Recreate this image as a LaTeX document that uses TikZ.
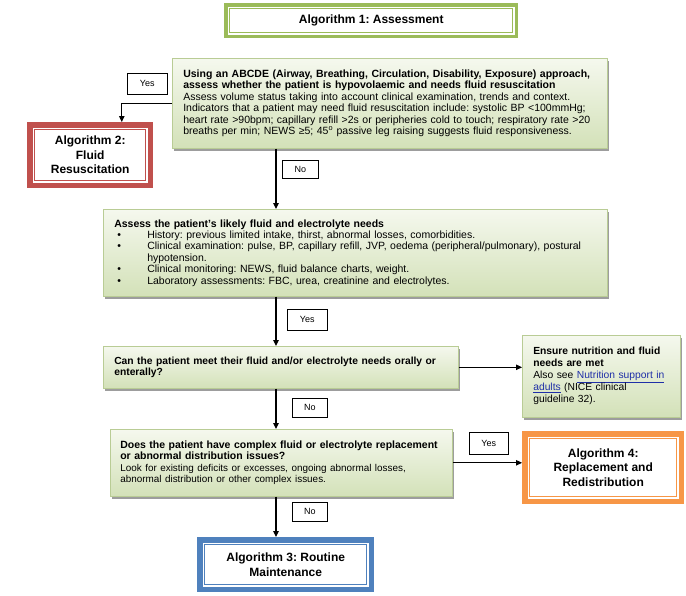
\documentclass[tikz,border=0pt]{standalone}
\usepackage{fontspec}
\setmainfont{Liberation Sans}
\usetikzlibrary{arrows.meta,shadows,calc}
\definecolor{gtop}{HTML}{F5F8EE}
\definecolor{gbot}{HTML}{D3E1B8}
\definecolor{gedge}{HTML}{B9CC95}
\definecolor{algG}{HTML}{9BBB59}
\definecolor{algR}{HTML}{C0504D}
\definecolor{algB}{HTML}{4F81BD}
\definecolor{algO}{HTML}{F79646}
\definecolor{linkc}{HTML}{1F2FA8}
\newcommand\lnk[1]{\textcolor{linkc}{\underline{#1}}}
\newcommand\bitem[1]{\par\noindent\hangindent=33pt\hangafter=1\makebox[33pt][l]{\hspace{3pt}\textbullet}#1}
\frenchspacing
\begin{document}
\begin{tikzpicture}[x=1pt,y=-1pt,
  gbox/.style={draw=gedge, line width=0.6pt, top color=gtop, bottom color=gbot,
    drop shadow={shadow xshift=2pt, shadow yshift=-3pt, fill=black!55, opacity=0.7},
    anchor=north west, align=left, inner ysep=0pt,
    font=\fontsize{10.5}{11.4}\selectfont\frenchspacing},
  lbl/.style={draw=black, line width=0.6pt, fill=white, anchor=north west,
    inner sep=0pt, font=\fontsize{9}{10}\selectfont},
  algbox/.style={anchor=north west, inner sep=0pt, align=center, fill=white,
    font=\fontsize{12}{14.5}\selectfont\bfseries},
  arr/.style={line width=1.1pt, -{Triangle[length=6pt,width=5.5pt]}},
  band/.style={line width=#1}
]
\useasboundingbox (0,0) rectangle (686,595);
\coordinate (trunk) at (276,0);

% Algorithm 1
\node[algbox, minimum width=294pt, minimum height=35pt] (a1) at (224,3) {Algorithm 1: Assessment};
\draw[algG, band=3.6pt] ([shift={(1.8pt,-1.8pt)}]a1.north west) rectangle ([shift={(-1.8pt,1.8pt)}]a1.south east);
\draw[algG, band=1pt] ([shift={(5.6pt,-5.6pt)}]a1.north west) rectangle ([shift={(-5.6pt,5.6pt)}]a1.south east);

% Box 1
\node[gbox, text width=413pt, inner xsep=11pt, minimum height=90pt] (b1) at (172,58) {%
\textbf{Using an ABCDE (Airway, Breathing, Circulation, Disability, Exposure) approach,}\\
\textbf{assess whether the patient is hypovolaemic and needs fluid resuscitation}\\
Assess volume status taking into account clinical examination, trends and context.\\
Indicators that a patient may need fluid resuscitation include: systolic BP <100mmHg;\\
heart rate >90bpm; capillary refill >2s or peripheries cold to touch; respiratory rate >20\\
breaths per min; NEWS ≥5; 45\textsuperscript{o} passive leg raising suggests fluid responsiveness.};

\node[lbl, minimum width=40pt, minimum height=21pt] (y1) at (127,73) {Yes};

% Algorithm 2
\node[algbox, minimum width=126pt, minimum height=66pt] (a2) at (27,122) {Algorithm 2:\\Fluid\\Resuscitation};
\draw[algR, band=5.5pt] ([shift={(2.75pt,-2.75pt)}]a2.north west) rectangle ([shift={(-2.75pt,2.75pt)}]a2.south east);
\draw[algR, band=1pt] ([shift={(7.5pt,-7.5pt)}]a2.north west) rectangle ([shift={(-7.5pt,7.5pt)}]a2.south east);

\node[lbl, minimum width=36pt, minimum height=18pt] (n1) at (282,160) {No};

% Box 2
\node[gbox, text width=482pt, inner xsep=11pt, minimum height=87pt] (b2) at (103,209) {%
\textbf{Assess the patient’s likely fluid and electrolyte needs}
\bitem{History: previous limited intake, thirst, abnormal losses, comorbidities.}
\bitem{Clinical examination: pulse, BP, capillary refill, JVP, oedema (peripheral/pulmonary), postural\newline hypotension.}
\bitem{Clinical monitoring: NEWS, fluid balance charts, weight.}
\bitem{Laboratory assessments: FBC, urea, creatinine and electrolytes.}};

\node[lbl, minimum width=40pt, minimum height=21pt] (y2) at (287,309) {Yes};

% Box 3
\node[gbox, text width=333pt, inner xsep=11pt, minimum height=42pt,
  font=\fontsize{10.3}{11.6}\selectfont] (b3) at (103,346) {%
\textbf{Can the patient meet their fluid and/or electrolyte needs orally or}\\
\textbf{enterally?}};

% Nutrition
\node[gbox, text width=136pt, inner xsep=11pt, minimum height=82pt,
  font=\fontsize{10.3}{12}\selectfont] (nut) at (522,335) {%
\textbf{Ensure nutrition and fluid}\\
\textbf{needs are met}\\
Also see \lnk{Nutrition support in}\\
\lnk{adults} (NICE clinical\\
guideline 32).};

\node[lbl, minimum width=35pt, minimum height=19pt] (n2) at (292,398) {No};

% Box 4
\node[gbox, text width=322pt, inner xsep=10pt, minimum height=67pt] (b4) at (110,429) {%
\textbf{Does the patient have complex fluid or electrolyte replacement}\\
\textbf{or abnormal distribution issues?}\\
{\fontsize{9.9}{12.5}\selectfont Look for existing deficits or excesses, ongoing abnormal losses,}\\
{\fontsize{9.9}{12.5}\selectfont abnormal distribution or other complex issues.}};

\node[lbl, minimum width=39pt, minimum height=22pt] (y3) at (469,432) {Yes};

% Algorithm 4
\node[algbox, minimum width=162pt, minimum height=73pt] (a4) at (522,431) {Algorithm 4:\\Replacement and\\Redistribution};
\draw[algO, band=5.5pt] ([shift={(2.75pt,-2.75pt)}]a4.north west) rectangle ([shift={(-2.75pt,2.75pt)}]a4.south east);
\draw[algO, band=1pt] ([shift={(7.5pt,-7.5pt)}]a4.north west) rectangle ([shift={(-7.5pt,7.5pt)}]a4.south east);

\node[lbl, minimum width=35pt, minimum height=19pt] (n3) at (292,502) {No};

% Algorithm 3
\node[algbox, minimum width=177pt, minimum height=55pt] (a3) at (197,537) {Algorithm 3: Routine\\Maintenance};
\draw[algB, band=5.5pt] ([shift={(2.75pt,-2.75pt)}]a3.north west) rectangle ([shift={(-2.75pt,2.75pt)}]a3.south east);
\draw[algB, band=1pt] ([shift={(7.5pt,-7.5pt)}]a3.north west) rectangle ([shift={(-7.5pt,7.5pt)}]a3.south east);

% Connectors
\draw[arr] (b1.west) -| ($(a2.north west)!0.75!(a2.north east)$);
\draw[arr] (b1.south -| trunk) -- (b2.north -| trunk);
\draw[arr] (b2.south -| trunk) -- (b3.north -| trunk);
\draw[arr] (b3.east) -- (b3.east -| nut.west);
\draw[arr] (b3.south -| trunk) -- (b4.north -| trunk);
\draw[arr] (b4.east) -- (b4.east -| a4.west);
\draw[arr] (b4.south -| trunk) -- (a3.north -| trunk);
\end{tikzpicture}
\end{document}
